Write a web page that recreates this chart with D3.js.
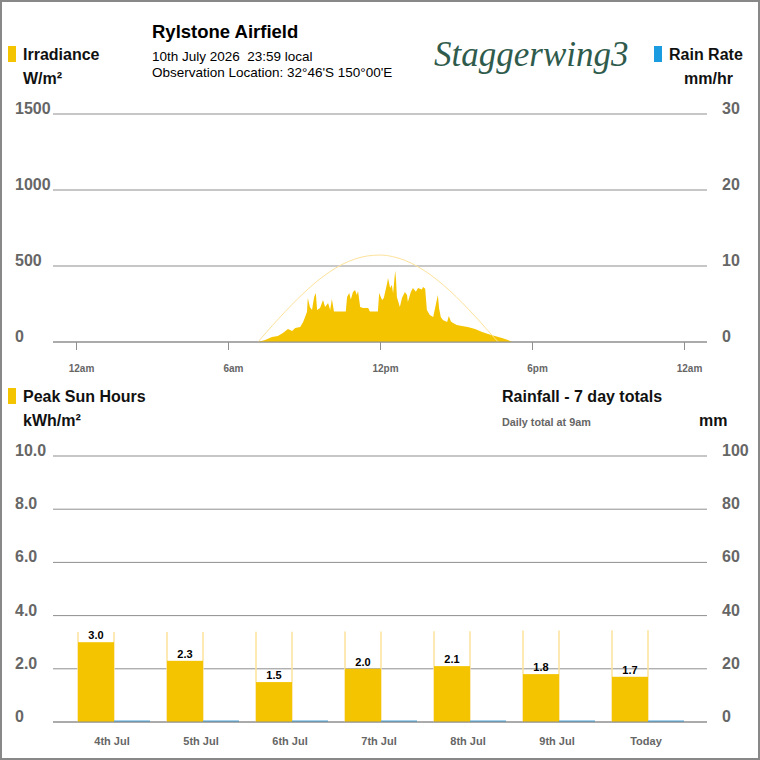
<!DOCTYPE html>
<html lang="en">
<head>
    <meta charset="UTF-8">
    <title>Rylstone Airfield - Solar</title>
    <style>
        body {
            margin: 0;
            background: #fff;
        }

        svg text {
            font-family: "Liberation Sans", Arial, sans-serif;
        }

        .scale-label {
            font-size: 16px;
            font-weight: bold;
            fill: #666;
        }

        .legend-label {
            font-size: 16px;
            font-weight: bold;
            fill: #111;
        }

        .grid line {
            stroke: #8f8f8f;
            stroke-width: 1;
        }
    </style>
</head>

<body>
    <div id="chart"></div>

    <script src="https://cdnjs.cloudflare.com/ajax/libs/d3/7.8.5/d3.min.js"></script>
    <script>
        // ---- data ----
        // irradiance samples for today (local time, W/m2)
        var irrTimes = ["07:11", "07:28", "07:44", "07:58", "08:10", "08:22", "08:32", "08:39", "08:51", "08:58",
            "09:07", "09:09", "09:14", "09:19", "09:24", "09:28", "09:31", "09:38", "09:45", "09:50",
            "09:57", "10:02", "10:06", "10:11", "10:39", "10:42", "10:47", "10:51", "10:56", "11:01",
            "11:05", "11:08", "11:13", "11:20", "11:32", "11:36", "11:55", "11:58", "12:05", "12:09",
            "12:17", "12:19", "12:24", "12:28", "12:31", "12:36", "12:38", "12:40", "12:47", "12:52",
            "12:59", "13:04", "13:06", "13:13", "13:18", "13:25", "13:30", "13:39", "13:42", "13:47",
            "13:51", "13:58", "14:06", "14:13", "14:17", "14:20", "14:24", "14:29", "14:39", "14:43",
            "14:48", "14:53", "15:02", "15:14", "15:28", "15:45", "16:02", "16:16", "16:32", "16:49",
            "17:03", "17:13"];
        var irrValues = [0, 13, 33, 39, 59, 85, 72, 92, 99, 132,
            197, 289, 230, 211, 296, 322, 211, 224, 276, 230,
            257, 211, 283, 200, 200, 296, 322, 280, 329, 342,
            310, 336, 230, 224, 224, 200, 200, 322, 276, 290,
            388, 421, 355, 375, 320, 468, 408, 296, 230, 289,
            329, 310, 263, 329, 355, 330, 355, 345, 362, 350,
            211, 178, 165, 257, 309, 220, 165, 145, 132, 171,
            135, 125, 112, 105, 99, 85, 66, 53, 39, 26,
            13, 0];

        // clear sky curve (W/m2)
        var clearTimes = ["07:11", "07:30", "08:00", "08:30", "09:00", "09:30", "10:00", "10:30", "11:00", "11:30",
            "12:00", "12:30", "13:00", "13:30", "14:00", "14:30", "15:00", "15:30", "16:00", "16:30", "16:40"];
        var clearValues = [0, 61, 154, 242, 324, 398, 460, 510, 545, 566,
            572, 562, 536, 495, 441, 375, 299, 214, 124, 30, 0];

        var irrTicks = [0, 500, 1000, 1500];
        var rainRateTicks = [0, 10, 20, 30];
        var timeTickHours = [0, 6, 12, 18, 24];
        var timeTickLabels = ["12am", "6am", "12pm", "6pm", "12am"];

        // 7 day totals
        var days = ["4th Jul", "5th Jul", "6th Jul", "7th Jul", "8th Jul", "9th Jul", "Today"];
        var sunHours = [3.0, 2.3, 1.5, 2.0, 2.1, 1.8, 1.7];
        var clearSunHours = [3.38, 3.38, 3.39, 3.40, 3.41, 3.44, 3.45];
        var rainTotals = [0, 0, 0, 0, 0, 0, 0];
        var pshTicks = [0, 2, 4, 6, 8, 10];
        var rainTicks = [0, 20, 40, 60, 80, 100];

        var yellow = "#f5c400",
            paleYellow = "#fde29a",
            blue = "#1b9be0",
            grey = "#666";

        var W = 760, H = 760,
            gridLeft = 53, gridRight = 707;

        var svg = d3.select("#chart")
            .append("svg")
            .attr("width", W)
            .attr("height", H);

        svg.append("rect")
            .attr("x", 1).attr("y", 1)
            .attr("width", W - 2).attr("height", H - 2)
            .attr("fill", "#fff")
            .attr("stroke", "#888")
            .attr("stroke-width", 2);

        function toHours(s) {
            var p = s.split(":");
            return +p[0] + p[1] / 60;
        }

        // ---- header ----
        svg.append("text").attr("x", 152).attr("y", 38)
            .style("font-size", "18.5px").style("font-weight", "bold")
            .text("Rylstone Airfield");
        svg.append("text").attr("x", 152).attr("y", 61)
            .style("font-size", "13.5px").attr("xml:space", "preserve")
            .text("10th July 2026  23:59 local");
        svg.append("text").attr("x", 152).attr("y", 77)
            .style("font-size", "13.5px")
            .text("Observation Location: 32°46'S 150°00'E");

        svg.append("text").attr("x", 434).attr("y", 66)
            .style("font-family", "'Liberation Serif', 'DejaVu Serif', serif")
            .style("font-style", "italic")
            .style("font-size", "35px")
            .attr("fill", "#2f5b4c")
            .text("Staggerwing3");

        function legend(x, y, colour, label, unit, unitX) {
            if (colour) {
                svg.append("rect").attr("x", x).attr("y", y - 14)
                    .attr("width", 8).attr("height", 16).attr("fill", colour);
            }
            svg.append("text").attr("class", "legend-label")
                .attr("x", x + 15).attr("y", y).text(label);
            svg.append("text").attr("class", "legend-label")
                .attr("x", unitX).attr("y", y + 24).text(unit);
        }
        legend(8, 60, yellow, "Irradiance", "W/m²", 23);
        legend(654, 60, blue, "Rain Rate", "mm/hr", 684);
        legend(8, 402, yellow, "Peak Sun Hours", "kWh/m²", 23);

        svg.append("text").attr("class", "legend-label")
            .attr("x", 502).attr("y", 402).text("Rainfall - 7 day totals");
        svg.append("text").attr("x", 502).attr("y", 426)
            .style("font-size", "10.8px").style("font-weight", "bold").attr("fill", grey)
            .text("Daily total at 9am");
        svg.append("text").attr("class", "legend-label")
            .attr("x", 699).attr("y", 426).text("mm");

        // ---- irradiance chart ----
        var yIrr = d3.scaleLinear().domain([0, 1500]).range([342, 114]);
        var yRate = d3.scaleLinear().domain([0, 30]).range([342, 114]);
        var xTime = d3.scaleLinear().domain([0, 24]).range([76, 684]);

        var topGrid = svg.append("g").attr("class", "grid");
        topGrid.selectAll("line")
            .data(irrTicks)
            .enter().append("line")
            .attr("x1", gridLeft).attr("x2", gridRight)
            .attr("y1", function (d) { return yIrr(d); })
            .attr("y2", function (d) { return yIrr(d); });

        svg.selectAll(".irrLab")
            .data(irrTicks)
            .enter().append("text")
            .attr("class", "scale-label")
            .attr("x", 15)
            .attr("y", function (d) { return yIrr(d); })
            .text(function (d) { return d; });

        svg.selectAll(".rateLab")
            .data(rainRateTicks)
            .enter().append("text")
            .attr("class", "scale-label")
            .attr("x", 722)
            .attr("y", function (d) { return yRate(d); })
            .text(function (d) { return d; });

        var irr = irrTimes.map(function (t, i) { return { h: toHours(t), v: irrValues[i] }; });
        var clear = clearTimes.map(function (t, i) { return { h: toHours(t), v: clearValues[i] }; });

        svg.append("path")
            .datum(irr)
            .attr("fill", yellow)
            .attr("d", d3.area()
                .x(function (d) { return xTime(d.h); })
                .y0(yIrr(0))
                .y1(function (d) { return yIrr(d.v); }));

        svg.append("path")
            .datum(clear)
            .attr("fill", "none")
            .attr("stroke", paleYellow)
            .attr("stroke-width", 1)
            .attr("d", d3.line()
                .curve(d3.curveMonotoneX)
                .x(function (d) { return xTime(d.h); })
                .y(function (d) { return yIrr(d.v); }));

        svg.append("line")
            .attr("x1", gridLeft).attr("x2", gridRight)
            .attr("y1", yIrr(0)).attr("y2", yIrr(0))
            .attr("stroke", "#8f8f8f");

        var tAxis = svg.append("g")
            .attr("transform", "translate(0," + yIrr(0) + ")")
            .call(d3.axisBottom(xTime)
                .tickValues(timeTickHours)
                .tickSize(8)
                .tickFormat(function (d, i) { return timeTickLabels[i]; }));
        tAxis.select(".domain").remove();
        tAxis.selectAll(".tick line").attr("stroke", "#8f8f8f");
        tAxis.selectAll(".tick text")
            .attr("y", 23)
            .attr("dx", 5)
            .attr("fill", grey)
            .style("font-size", "10px")
            .style("font-weight", "bold")
            .style("font-family", "'Liberation Sans', Arial, sans-serif");

        // ---- 7 day chart ----
        var yPsh = d3.scaleLinear().domain([0, 10]).range([722, 456]);
        var yRain = d3.scaleLinear().domain([0, 100]).range([722, 456]);
        var x0 = d3.scaleBand().domain(days).range([69.5, 692.5])
            .paddingInner(0.191).paddingOuter(0.0955);
        var x1 = d3.scaleBand().domain(["sun", "rain"]).range([0, x0.bandwidth()]);

        var botGrid = svg.append("g").attr("class", "grid");
        botGrid.selectAll("line")
            .data(pshTicks)
            .enter().append("line")
            .attr("x1", gridLeft).attr("x2", gridRight)
            .attr("y1", function (d) { return yPsh(d); })
            .attr("y2", function (d) { return yPsh(d); });

        svg.selectAll(".pshLab")
            .data(pshTicks)
            .enter().append("text")
            .attr("class", "scale-label")
            .attr("x", 15)
            .attr("y", function (d) { return yPsh(d); })
            .text(function (d) { return d === 0 ? "0" : d3.format(".1f")(d); });

        svg.selectAll(".rainLab")
            .data(rainTicks)
            .enter().append("text")
            .attr("class", "scale-label")
            .attr("x", 722)
            .attr("y", function (d) { return yRain(d); })
            .text(function (d) { return d; });

        var day = svg.selectAll(".day")
            .data(days)
            .enter().append("g")
            .attr("class", "day")
            .attr("transform", function (d) { return "translate(" + x0(d) + ",0)"; });

        // clear sky potential outline
        day.each(function (d, i) {
            var g = d3.select(this);
            var top = yPsh(clearSunHours[i]);
            [0, x1.bandwidth()].forEach(function (xx) {
                g.append("line")
                    .attr("x1", x1("sun") + xx).attr("x2", x1("sun") + xx)
                    .attr("y1", top).attr("y2", yPsh(0))
                    .attr("stroke", paleYellow)
                    .attr("stroke-width", 1.5);
            });
        });

        day.append("rect")
            .attr("x", x1("sun"))
            .attr("width", x1.bandwidth())
            .attr("y", function (d, i) { return yPsh(sunHours[i]); })
            .attr("height", function (d, i) { return yPsh(0) - yPsh(sunHours[i]); })
            .attr("fill", yellow);

        day.append("text")
            .attr("x", x1("sun") + x1.bandwidth() / 2)
            .attr("y", function (d, i) { return yPsh(sunHours[i]) - 3; })
            .attr("text-anchor", "middle")
            .style("font-size", "11px")
            .style("font-weight", "bold")
            .text(function (d, i) { return d3.format(".1f")(sunHours[i]); });

        svg.append("line")
            .attr("x1", gridLeft).attr("x2", gridRight)
            .attr("y1", yPsh(0)).attr("y2", yPsh(0))
            .attr("stroke", "#8f8f8f");

        // rain bars (a zero total still shows as a thin line)
        day.append("rect")
            .attr("x", x1("rain"))
            .attr("width", x1.bandwidth())
            .attr("y", function (d, i) { return Math.min(yRain(rainTotals[i]), yRain(0) - 1.5); })
            .attr("height", function (d, i) { return Math.max(yRain(0) - yRain(rainTotals[i]), 1.5); })
            .attr("fill", "#4fa3dc");

        day.append("text")
            .attr("x", x0.bandwidth() / 2 - 2)
            .attr("y", 745)
            .attr("text-anchor", "middle")
            .attr("fill", grey)
            .style("font-size", "11px")
            .style("font-weight", "bold")
            .text(function (d) { return d; });
    </script>
</body>

</html>
